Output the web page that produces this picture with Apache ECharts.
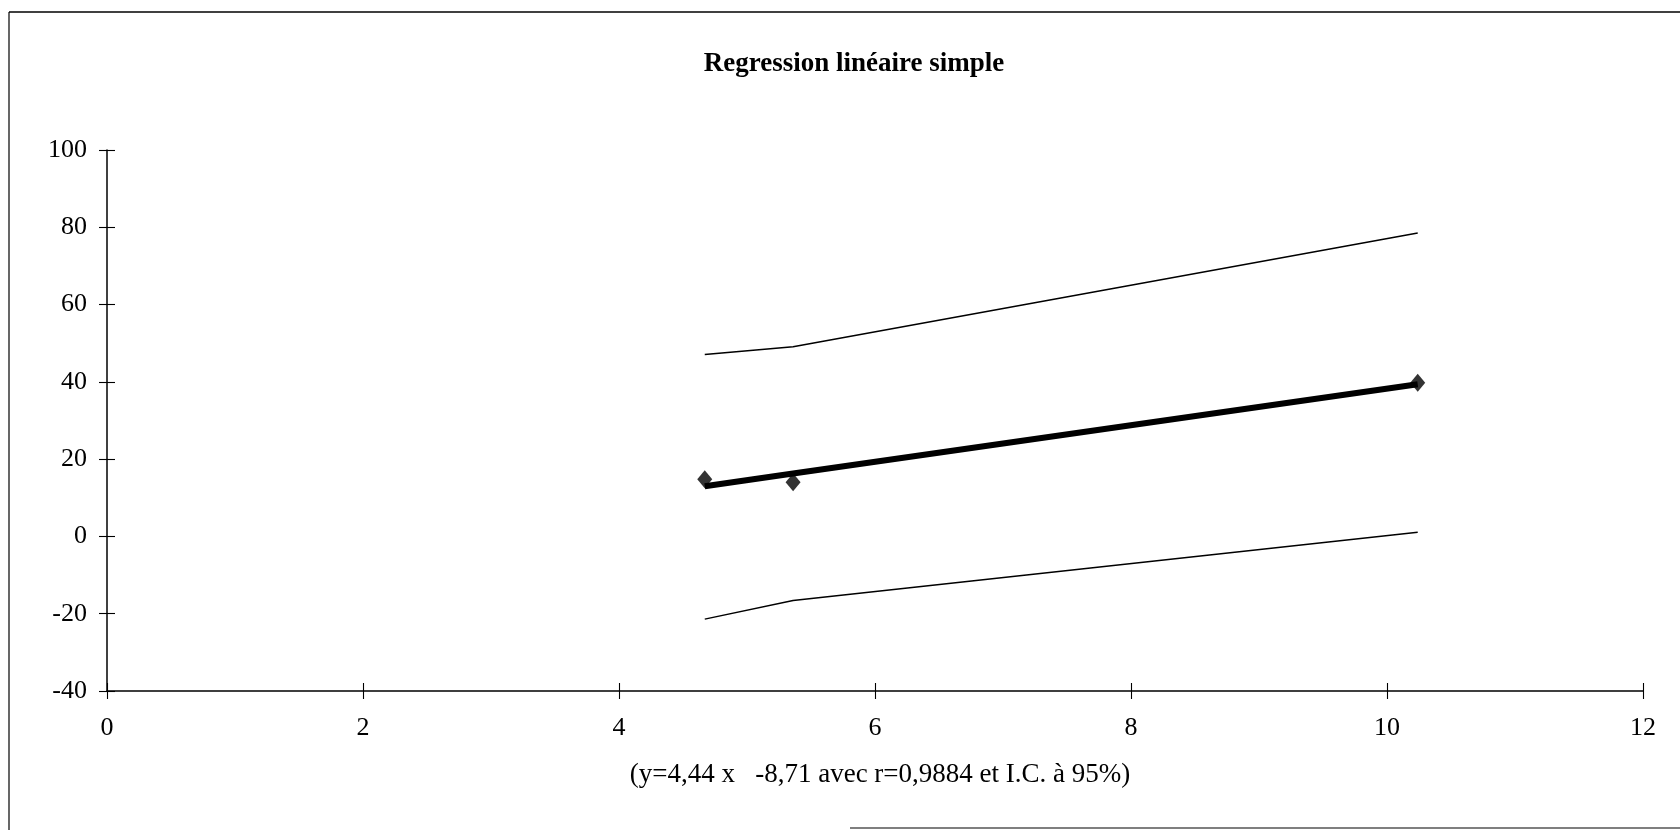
<!DOCTYPE html>
<html>
<head>
<meta charset="utf-8">
<title>Regression linéaire simple</title>
<script src="https://cdn.jsdelivr.net/npm/echarts@6/dist/echarts.min.js"></script>
<style>
  html, body { margin: 0; padding: 0; background: #ffffff; }
  #chart { width: 1680px; height: 830px; }
</style>
</head>
<body>
<div id="chart"></div>
<script>
// Observed values
const xObs = [4.67, 5.36, 10.24];
const yObs = [14.8, 14.0, 39.8];
// Fitted line y = 4.44 x - 8.71 at the observed x
const yFit = [13.0, 16.3, 39.4];
// 95% confidence band
const ciUpper = [47.1, 49.1, 78.5];
const ciLower = [-21.4, -16.6, 1.1];

const xTicks = [0, 2, 4, 6, 8, 10, 12];
const yTicks = [-40, -20, 0, 20, 40, 60, 80, 100];

const titleText = 'Regression linéaire simple';
const footText = '(y=4,44 x   -8,71 avec r=0,9884 et I.C. à 95%)';

const pairs = (xs, ys) => xs.map((x, i) => [x, ys[i]]);

const serif = '"Liberation Serif", "DejaVu Serif", serif';
const ink = '#000000';

const chart = echarts.init(document.getElementById('chart'), null, { renderer: 'canvas' });

const xMin = xTicks[0], xMax = xTicks[xTicks.length - 1];
const yMin = yTicks[0], yMax = yTicks[yTicks.length - 1];
const xStep = xTicks[1] - xTicks[0];
const yStep = yTicks[1] - yTicks[0];

const tickLen = 8;

// Two copies of each axis: one with outside ticks and labels, one with
// inside ticks only, so the tick marks cross the axis line.
function xAxisDef(inside, showLabels) {
  return {
    type: 'value', min: xMin, max: xMax, interval: xStep, position: 'bottom',
    splitLine: { show: false },
    axisLine: { show: !inside, onZero: false, lineStyle: { color: ink, width: 1.5 } },
    axisTick: { show: true, inside: inside, length: tickLen, lineStyle: { color: ink, width: 1.1 } },
    axisLabel: { show: showLabels, margin: 24, color: ink, fontFamily: serif, fontSize: 26 }
  };
}
function yAxisDef(inside, showLabels) {
  return {
    type: 'value', min: yMin, max: yMax, interval: yStep, position: 'left',
    splitLine: { show: false },
    axisLine: { show: !inside, onZero: false, lineStyle: { color: ink, width: 1.5 } },
    axisTick: { show: true, inside: inside, length: tickLen, lineStyle: { color: ink, width: 1.1 } },
    axisLabel: { show: showLabels, margin: 20, color: ink, fontFamily: serif, fontSize: 26 }
  };
}

chart.setOption({
  animation: false,
  backgroundColor: '#ffffff',
  title: {
    text: titleText,
    left: 849, top: 46, textAlign: 'center',
    textStyle: { fontFamily: serif, fontWeight: 'bold', fontSize: 27, color: ink }
  },
  graphic: [
    // frame around the chart
    { type: 'line', shape: { x1: 9, y1: 12, x2: 1680, y2: 12 }, style: { stroke: ink, lineWidth: 1.5 } },
    { type: 'line', shape: { x1: 9, y1: 12, x2: 9, y2: 830 }, style: { stroke: ink, lineWidth: 1.2 } },
    { type: 'line', shape: { x1: 850, y1: 828, x2: 1680, y2: 828 }, style: { stroke: ink, lineWidth: 1.2 } },
    {
      type: 'text', x: 880, y: 775,
      style: {
        text: footText, fontFamily: serif, fontSize: 27, fill: ink,
        align: 'center', verticalAlign: 'middle'
      }
    }
  ],
  grid: { left: 107, right: 37, top: 150, bottom: 139, containLabel: false },
  xAxis: [xAxisDef(false, true), xAxisDef(true, false)],
  yAxis: [yAxisDef(false, true), yAxisDef(true, false)],
  series: [
    {
      name: 'I.C. sup', type: 'line', data: pairs(xObs, ciUpper),
      showSymbol: false, lineStyle: { color: ink, width: 1.5 }, z: 2
    },
    {
      name: 'I.C. inf', type: 'line', data: pairs(xObs, ciLower),
      showSymbol: false, lineStyle: { color: ink, width: 1.5 }, z: 2
    },
    {
      name: 'Droite', type: 'line', data: pairs(xObs, yFit),
      showSymbol: false, lineStyle: { color: ink, width: 6 }, z: 3
    },
    {
      name: 'Observations', type: 'scatter', data: pairs(xObs, yObs),
      symbol: 'diamond', symbolSize: [15, 18], itemStyle: { color: ink }, z: 4
    }
  ]
});
</script>
</body>
</html>
